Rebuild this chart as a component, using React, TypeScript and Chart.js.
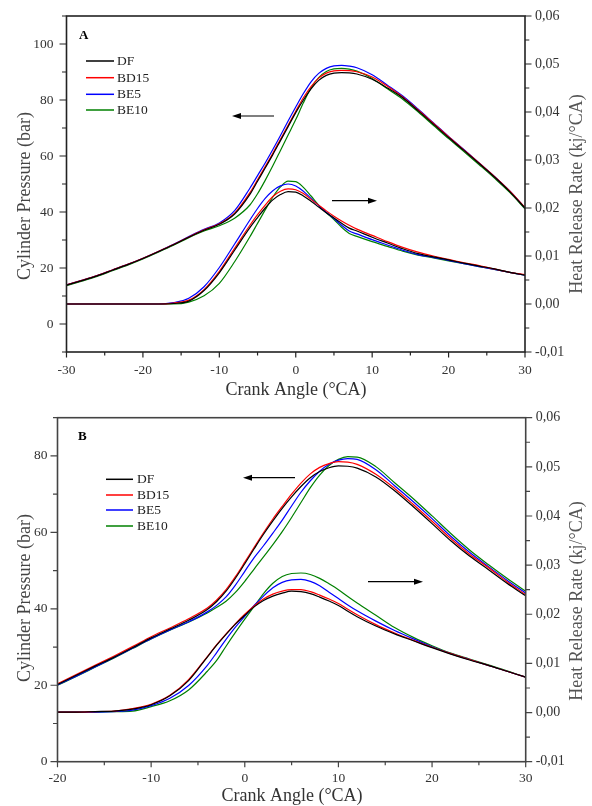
import React, { useEffect, useRef } from 'react';
import { Chart, registerables } from 'chart.js';

Chart.register(...registerables);

// ---------------- Panel A data ----------------
const CRANK_A = [-30, -28, -26, -24, -22, -20, -18, -16, -14, -12, -10, -8, -6, -5, -4, -3, -2, -1, 0, 1, 2, 3, 4, 5, 6, 7, 8, 10, 12, 14, 16, 18, 20, 22, 24, 26, 28, 30];

const P_DF_A = [13.9, 15.5, 17.2, 19.2, 21.2, 23.4, 25.8, 28.3, 31.0, 33.5, 35.6, 39.3, 46.3, 51.0, 55.7, 60.5, 65.5, 70.5, 75.5, 80.0, 84.0, 87.0, 88.8, 89.6, 89.8, 89.7, 89.3, 87.4, 84.3, 80.8, 76.2, 71.4, 66.6, 62.0, 57.3, 52.5, 47.3, 41.4];
const P_BD15_A = [14.0, 15.6, 17.3, 19.3, 21.3, 23.5, 25.9, 28.4, 31.1, 33.6, 35.8, 39.6, 46.9, 51.5, 56.2, 61.0, 66.0, 71.0, 76.0, 80.8, 84.8, 87.8, 89.6, 90.4, 90.6, 90.5, 90.1, 88.2, 84.9, 81.1, 76.5, 71.7, 66.9, 62.2, 57.5, 52.7, 47.5, 41.6];
const P_BE5_A = [14.0, 15.6, 17.3, 19.3, 21.3, 23.5, 25.9, 28.5, 31.2, 33.8, 36.1, 40.5, 48.5, 53.0, 57.5, 62.3, 67.3, 72.5, 77.5, 82.3, 86.5, 89.5, 91.3, 92.2, 92.4, 92.1, 91.5, 89.0, 85.3, 81.4, 76.8, 71.9, 67.0, 62.3, 57.5, 52.7, 47.5, 41.5];
const P_BE10_A = [13.7, 15.3, 17.0, 19.0, 21.0, 23.2, 25.6, 28.1, 30.8, 33.2, 35.1, 37.8, 42.5, 46.5, 51.3, 56.5, 62.0, 67.5, 73.0, 79.0, 84.3, 88.0, 90.2, 91.1, 91.3, 91.0, 90.3, 87.7, 84.0, 80.3, 75.8, 71.0, 66.2, 61.6, 56.9, 52.1, 47.0, 41.1];

const H_DF_A = [0, 0, 0, 0, 0, 0, 0, 0.0001, 0.0006, 0.0028, 0.0065, 0.0112, 0.0159, 0.0180, 0.0200, 0.0217, 0.0228, 0.0234, 0.0233, 0.0225, 0.0214, 0.0202, 0.0190, 0.0179, 0.0168, 0.0158, 0.0152, 0.0139, 0.0127, 0.0115, 0.0105, 0.0098, 0.0092, 0.0085, 0.0079, 0.0073, 0.0066, 0.0060];
const H_BD15_A = [0, 0, 0, 0, 0, 0, 0, 0.0002, 0.0008, 0.0030, 0.0068, 0.0116, 0.0164, 0.0186, 0.0206, 0.0224, 0.0235, 0.0240, 0.0238, 0.0230, 0.0218, 0.0206, 0.0194, 0.0183, 0.0173, 0.0164, 0.0156, 0.0143, 0.0130, 0.0118, 0.0108, 0.0100, 0.0093, 0.0086, 0.0080, 0.0073, 0.0066, 0.0061];
const H_BE5_A = [0, 0, 0, 0, 0, 0, 0, 0.0003, 0.0012, 0.0036, 0.0076, 0.0125, 0.0175, 0.0199, 0.0220, 0.0236, 0.0246, 0.0250, 0.0246, 0.0235, 0.0220, 0.0205, 0.0191, 0.0178, 0.0164, 0.0152, 0.0146, 0.0134, 0.0123, 0.0112, 0.0103, 0.0097, 0.0091, 0.0084, 0.0078, 0.0072, 0.0066, 0.0060];
const H_BE10_A = [0, 0, 0, 0, 0, 0, 0, 0.0000, 0.0004, 0.0017, 0.0043, 0.0088, 0.0140, 0.0168, 0.0196, 0.0223, 0.0244, 0.0256, 0.0255, 0.0243, 0.0225, 0.0206, 0.0190, 0.0176, 0.0160, 0.0147, 0.0141, 0.0130, 0.0120, 0.0110, 0.0102, 0.0096, 0.0090, 0.0084, 0.0078, 0.0072, 0.0066, 0.0060];

// ---------------- Panel B data ----------------
const CRANK_B = [-20, -18, -16, -14, -12, -10, -8, -6, -4, -3, -2, -1, 0, 1, 2, 3, 4, 5, 6, 7, 8, 9, 10, 11, 12, 14, 16, 18, 20, 22, 24, 26, 28, 30];

const P_DF_B = [20.2, 22.6, 25.0, 27.3, 29.8, 32.4, 34.7, 37.0, 39.8, 41.9, 44.6, 48.0, 51.8, 55.7, 59.5, 63.0, 66.3, 69.3, 72.0, 74.3, 75.9, 76.9, 77.4, 77.3, 76.8, 74.5, 70.9, 66.7, 62.3, 57.8, 53.8, 50.3, 46.7, 43.4];
const P_BD15_B = [20.4, 22.8, 25.2, 27.6, 30.1, 32.7, 35.0, 37.4, 40.2, 42.3, 45.0, 48.4, 52.2, 56.1, 59.9, 63.5, 66.8, 70.0, 72.9, 75.3, 77.0, 78.0, 78.5, 78.4, 77.8, 75.2, 71.5, 67.3, 62.9, 58.4, 54.3, 50.8, 47.1, 43.7];
const P_BE5_B = [20.1, 22.4, 24.8, 27.2, 29.7, 32.2, 34.5, 36.6, 39.2, 40.9, 43.1, 46.2, 49.8, 53.4, 56.5, 59.8, 63.2, 66.9, 70.5, 73.5, 76.0, 77.8, 78.9, 79.3, 79.1, 76.4, 72.2, 68.0, 63.6, 59.0, 54.8, 51.1, 47.5, 44.1];
const P_BE10_B = [20.0, 22.3, 24.7, 27.1, 29.6, 32.1, 34.4, 36.5, 38.9, 40.4, 42.0, 44.3, 47.2, 50.4, 53.6, 56.8, 60.2, 63.9, 67.8, 71.7, 75.0, 77.5, 79.1, 79.8, 79.7, 77.2, 73.0, 68.8, 64.3, 59.7, 55.4, 51.6, 48.0, 44.6];

const H_DF_B = [0.0001, 0.0001, 0.0002, 0.0003, 0.0007, 0.0016, 0.0034, 0.0065, 0.0113, 0.0137, 0.0159, 0.0180, 0.0198, 0.0215, 0.0228, 0.0237, 0.0243, 0.0247, 0.0246, 0.0242, 0.0235, 0.0227, 0.0218, 0.0206, 0.0195, 0.0176, 0.0160, 0.0146, 0.0132, 0.0119, 0.0107, 0.0096, 0.0084, 0.0072];
const H_BD15_B = [0.0001, 0.0001, 0.0002, 0.0003, 0.0008, 0.0017, 0.0035, 0.0067, 0.0114, 0.0138, 0.0160, 0.0181, 0.0200, 0.0217, 0.0231, 0.0241, 0.0247, 0.0250, 0.0250, 0.0246, 0.0239, 0.0231, 0.0222, 0.0210, 0.0199, 0.0179, 0.0162, 0.0147, 0.0133, 0.0120, 0.0108, 0.0096, 0.0084, 0.0072];
const H_BE5_B = [0.0001, 0.0001, 0.0001, 0.0002, 0.0005, 0.0014, 0.0029, 0.0055, 0.0096, 0.0122, 0.0149, 0.0174, 0.0196, 0.0218, 0.0237, 0.0254, 0.0265, 0.0270, 0.0271, 0.0267, 0.0258, 0.0245, 0.0232, 0.0219, 0.0207, 0.0186, 0.0167, 0.0150, 0.0134, 0.0120, 0.0108, 0.0096, 0.0084, 0.0072];
const H_BE10_B = [0.0001, 0.0001, 0.0001, 0.0002, 0.0003, 0.0012, 0.0024, 0.0046, 0.0084, 0.0106, 0.0135, 0.0163, 0.0190, 0.0216, 0.0242, 0.0263, 0.0277, 0.0283, 0.0284, 0.0281, 0.0273, 0.0262, 0.0250, 0.0236, 0.0223, 0.0198, 0.0173, 0.0153, 0.0136, 0.0121, 0.0109, 0.0097, 0.0085, 0.0072];

// ---------------- Labels / ticks ----------------
const SERIES_NAMES = ['DF', 'BD15', 'BE5', 'BE10'];
const SERIES_COLORS = ['#000000', '#ff0000', '#0000ff', '#008000'];

const X_MAJOR_A = [-30, -20, -10, 0, 10, 20, 30];
const X_MINOR_A = [-25, -15, -5, 5, 15, 25];
const Y_MAJOR_A = [0, 20, 40, 60, 80, 100];
const Y_MINOR_A = [-10, 10, 30, 50, 70, 90, 110];

const X_MAJOR_B = [-20, -10, 0, 10, 20, 30];
const X_MINOR_B = [-15, -5, 5, 15, 25];
const Y_MAJOR_B = [0, 20, 40, 60, 80];
const Y_MINOR_B = [10, 30, 50, 70, 90];

const H_MAJOR = [-0.01, 0, 0.01, 0.02, 0.03, 0.04, 0.05, 0.06];
const H_MINOR = [-0.005, 0.005, 0.015, 0.025, 0.035, 0.045, 0.055];

const X_TITLE = 'Crank Angle (\u00B0CA)';
const Y_TITLE = 'Cylinder Pressure (bar)';
const Y1_TITLE = 'Heat Release Rate (kj/\u00B0CA)';

const SERIF = '"Liberation Serif", "Times New Roman", serif';

type PanelCfg = {
  letter: string;
  height: number;
  top: number;
  padding: { left: number; right: number; top: number; bottom: number };
  crank: number[];
  pressure: number[][];
  heat: number[][];
  xMin: number; xMax: number; xMajor: number[]; xMinor: number[];
  yMin: number; yMax: number; yMajor: number[]; yMinor: number[];
  letterPos: [number, number];
  legend: { x1: number; x2: number; tx: number; ys: number[] };
  arrows: { from: number; to: number; y: number }[];
  leftTitle: [number, number];
  rightTitle: [number, number];
  xTitle: [number, number];
  leftLabelGap: number;
  xLabelOffset: number;
  frameColor: string;
};

const PANEL_A: PanelCfg = {
  letter: 'A',
  height: 400,
  top: 0,
  padding: { left: 66.5, right: 67, top: 16, bottom: 48 },
  crank: CRANK_A,
  pressure: [P_DF_A, P_BD15_A, P_BE5_A, P_BE10_A],
  heat: [H_DF_A, H_BD15_A, H_BE5_A, H_BE10_A],
  xMin: -30, xMax: 30, xMajor: X_MAJOR_A, xMinor: X_MINOR_A,
  yMin: -10, yMax: 110, yMajor: Y_MAJOR_A, yMinor: Y_MINOR_A,
  letterPos: [79, 39],
  legend: { x1: 86, x2: 114, tx: 117, ys: [61, 77.7, 94.3, 110] },
  arrows: [{ from: 274, to: 232, y: 116 }, { from: 332, to: 377, y: 200.7 }],
  leftTitle: [25, 196],
  rightTitle: [577.5, 194],
  xTitle: [296, 390],
  leftLabelGap: 13,
  xLabelOffset: 18,
  frameColor: '#222',
};

const PANEL_B: PanelCfg = {
  letter: 'B',
  height: 406,
  top: 400,
  padding: { left: 57.5, right: 66.3, top: 17.7, bottom: 44.3 },
  crank: CRANK_B,
  pressure: [P_DF_B, P_BD15_B, P_BE5_B, P_BE10_B],
  heat: [H_DF_B, H_BD15_B, H_BE5_B, H_BE10_B],
  xMin: -20, xMax: 30, xMajor: X_MAJOR_B, xMinor: X_MINOR_B,
  yMin: 0, yMax: 90, yMajor: Y_MAJOR_B, yMinor: Y_MINOR_B,
  letterPos: [78, 40],
  legend: { x1: 106, x2: 133, tx: 137, ys: [79.3, 95, 110, 126] },
  arrows: [{ from: 295, to: 243, y: 77.7 }, { from: 368, to: 423, y: 181.7 }],
  leftTitle: [25, 198],
  rightTitle: [577.5, 201],
  xTitle: [292, 396],
  leftLabelGap: 10,
  xLabelOffset: 16.5,
  frameColor: '#444',
};

function fmtHeat(v: number): string {
  return v.toFixed(2).replace('.', ',').replace('-0,00', '0,00');
}

function makeDecor(cfg: PanelCfg) {
  return {
    id: 'decor' + cfg.letter,
    afterDraw(chart: any) {
      const ctx: CanvasRenderingContext2D = chart.ctx;
      const { left, right, top, bottom } = chart.chartArea;
      const xs = chart.scales.x;
      const ys = chart.scales.y;
      const hs = chart.scales.y1;
      ctx.save();

      // frame
      ctx.strokeStyle = cfg.frameColor;
      ctx.lineWidth = 1.6;
      ctx.strokeRect(left, top, right - left, bottom - top);

      // ticks
      ctx.lineWidth = 1.2;
      ctx.beginPath();
      cfg.xMajor.forEach((v) => { const p = xs.getPixelForValue(v); ctx.moveTo(p, bottom); ctx.lineTo(p, bottom + 5.5); });
      cfg.xMinor.forEach((v) => { const p = xs.getPixelForValue(v); ctx.moveTo(p, bottom); ctx.lineTo(p, bottom + 3.5); });
      cfg.yMajor.forEach((v) => { const p = ys.getPixelForValue(v); ctx.moveTo(left, p); ctx.lineTo(left - 7, p); });
      cfg.yMinor.forEach((v) => { const p = ys.getPixelForValue(v); ctx.moveTo(left, p); ctx.lineTo(left - 4.5, p); });
      H_MAJOR.forEach((v) => { const p = hs.getPixelForValue(v); ctx.moveTo(right, p); ctx.lineTo(right + 6.5, p); });
      H_MINOR.forEach((v) => { const p = hs.getPixelForValue(v); ctx.moveTo(right, p); ctx.lineTo(right + 4.3, p); });
      ctx.stroke();

      // tick labels
      ctx.fillStyle = '#333';
      ctx.font = '13.5px ' + SERIF;
      ctx.textBaseline = 'middle';
      ctx.textAlign = 'center';
      cfg.xMajor.forEach((v) => ctx.fillText(String(v), xs.getPixelForValue(v), bottom + cfg.xLabelOffset));
      ctx.textAlign = 'right';
      cfg.yMajor.forEach((v) => ctx.fillText(String(v), left - cfg.leftLabelGap, ys.getPixelForValue(v)));
      ctx.textAlign = 'left';
      ctx.font = '14px ' + SERIF;
      H_MAJOR.forEach((v) => ctx.fillText(fmtHeat(v), right + 10, hs.getPixelForValue(v)));

      // axis titles
      ctx.font = '18px ' + SERIF;
      ctx.textAlign = 'center';
      ctx.fillStyle = '#333';
      ctx.fillText(X_TITLE, cfg.xTitle[0], cfg.xTitle[1]);
      ctx.save();
      ctx.translate(cfg.leftTitle[0], cfg.leftTitle[1]);
      ctx.rotate(-Math.PI / 2);
      ctx.fillStyle = '#444';
      ctx.fillText(Y_TITLE, 0, 0);
      ctx.restore();
      ctx.save();
      ctx.translate(cfg.rightTitle[0], cfg.rightTitle[1]);
      ctx.rotate(-Math.PI / 2);
      ctx.fillStyle = '#555';
      ctx.fillText(Y1_TITLE, 0, 0);
      ctx.restore();

      // panel letter
      ctx.font = 'bold 13px ' + SERIF;
      ctx.textAlign = 'left';
      ctx.textBaseline = 'alphabetic';
      ctx.fillStyle = '#000';
      ctx.fillText(cfg.letter, cfg.letterPos[0], cfg.letterPos[1]);

      // legend
      ctx.font = '13.5px ' + SERIF;
      ctx.textBaseline = 'middle';
      SERIES_NAMES.forEach((name, i) => {
        const y = cfg.legend.ys[i];
        ctx.strokeStyle = SERIES_COLORS[i];
        ctx.lineWidth = 1.5;
        ctx.beginPath();
        ctx.moveTo(cfg.legend.x1, y);
        ctx.lineTo(cfg.legend.x2, y);
        ctx.stroke();
        ctx.fillStyle = '#222';
        ctx.fillText(name, cfg.legend.tx, y + 0.5);
      });

      // arrows
      ctx.strokeStyle = '#000';
      ctx.fillStyle = '#000';
      cfg.arrows.forEach((a) => {
        const dir = a.to > a.from ? 1 : -1;
        ctx.lineWidth = 1.2;
        ctx.beginPath();
        ctx.moveTo(a.from, a.y);
        ctx.lineTo(a.to - dir * 4, a.y);
        ctx.stroke();
        ctx.beginPath();
        ctx.moveTo(a.to, a.y);
        ctx.lineTo(a.to - dir * 9, a.y - 3);
        ctx.lineTo(a.to - dir * 9, a.y + 3);
        ctx.closePath();
        ctx.fill();
      });

      ctx.restore();
    },
  };
}

function Panel({ cfg }: { cfg: PanelCfg }) {
  const ref = useRef<HTMLCanvasElement>(null);
  useEffect(() => {
    if (!ref.current) return;
    const datasets: any[] = [];
    SERIES_NAMES.forEach((name, i) => {
      datasets.push({
        label: name + ' pressure',
        data: cfg.crank.map((c, k) => ({ x: c, y: cfg.pressure[i][k] })),
        borderColor: SERIES_COLORS[i],
        borderWidth: 1.2,
        pointRadius: 0,
        fill: false,
        cubicInterpolationMode: 'monotone',
        yAxisID: 'y',
      });
    });
    SERIES_NAMES.forEach((name, i) => {
      datasets.push({
        label: name + ' heat',
        data: cfg.crank.map((c, k) => ({ x: c, y: cfg.heat[i][k] })),
        borderColor: SERIES_COLORS[i],
        borderWidth: 1.2,
        pointRadius: 0,
        fill: false,
        cubicInterpolationMode: 'monotone',
        yAxisID: 'y1',
      });
    });
    const chart = new Chart(ref.current, {
      type: 'line',
      data: { datasets },
      options: {
        animation: false,
        responsive: false,
        devicePixelRatio: 1,
        layout: { padding: cfg.padding },
        plugins: { legend: { display: false }, tooltip: { enabled: false } },
        events: [],
        scales: {
          x: { type: 'linear', min: cfg.xMin, max: cfg.xMax, display: false },
          y: { type: 'linear', position: 'left', min: cfg.yMin, max: cfg.yMax, display: false },
          y1: { type: 'linear', position: 'right', min: -0.01, max: 0.06, display: false },
        },
      },
      plugins: [makeDecor(cfg)],
    } as any);
    return () => chart.destroy();
  }, [cfg]);
  return (
    <canvas
      ref={ref}
      width={592}
      height={cfg.height}
      style={{ position: 'absolute', left: 0, top: cfg.top, width: 592, height: cfg.height, display: 'block' }}
    />
  );
}

export default function App() {
  return (
    <div style={{ position: 'absolute', left: 0, top: 0, width: 592, height: 806, background: '#fff', overflow: 'hidden' }}>
      <Panel cfg={PANEL_A} />
      <Panel cfg={PANEL_B} />
    </div>
  );
}
